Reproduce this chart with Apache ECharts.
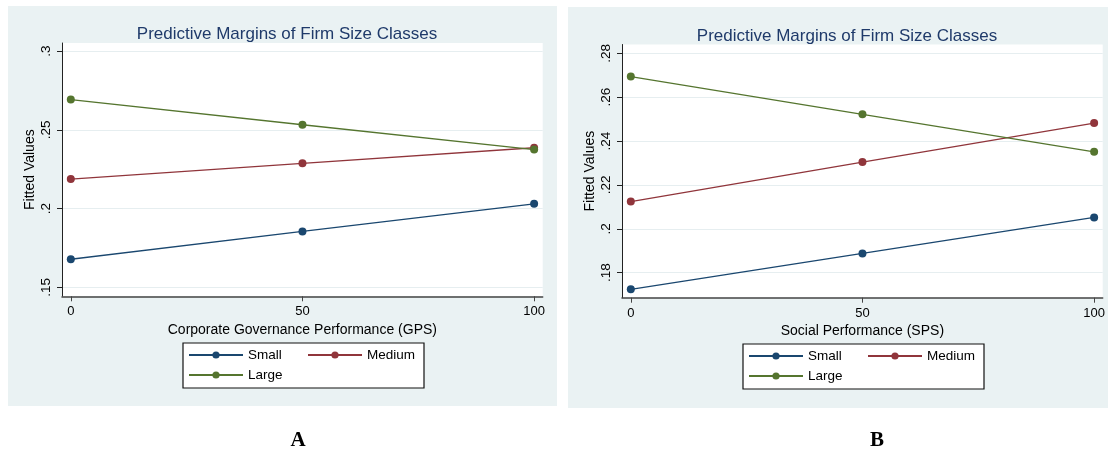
<!DOCTYPE html>
<html>
<head>
<meta charset="utf-8">
<script src="https://cdn.jsdelivr.net/npm/echarts@6/dist/echarts.min.js"></script>
<style>
html,body{margin:0;padding:0;background:#fff;}
#chart{width:1108px;height:456px;}
</style>
</head>
<body>
<div id="chart"></div>
<script>
// ---- data ----
const categoriesX = [0, 50, 100];
const xTicks = [0, 50, 100];
const seriesNames = ['Small', 'Medium', 'Large'];

// Panel A: Corporate Governance Performance (GPS)
const smallA  = [0.1678, 0.1855, 0.2030];
const mediumA = [0.2187, 0.2287, 0.2386];
const largeA  = [0.2692, 0.2532, 0.2374];
const yTicksA = [0.15, 0.2, 0.25, 0.3];

// Panel B: Social Performance (SPS)
const smallB  = [0.1724, 0.1888, 0.2052];
const mediumB = [0.2124, 0.2304, 0.2482];
const largeB  = [0.2694, 0.2522, 0.2351];
const yTicksB = [0.18, 0.2, 0.22, 0.24, 0.26, 0.28];

const titleText = 'Predictive Margins of Firm Size Classes';
const xNameA = 'Corporate Governance Performance (GPS)';
const xNameB = 'Social Performance (SPS)';
const yName = 'Fitted Values';
const panelLabels = ['A', 'B'];

// ---- styling ----
const colors = {Small: '#1a476f', Medium: '#90353b', Large: '#55752f'};
const FONT = '"Liberation Sans", Arial, sans-serif';
const fmtY = v => String(+v.toFixed(4)).replace(/^0\./, '.');

function pairs(vals) { return categoriesX.map((x, i) => [x, vals[i]]); }

function xAxisDef(gridIndex, name) {
  return {
    type: 'value', gridIndex, min: -1.9, max: 101.85,
    name, nameLocation: 'middle', nameGap: 21,
    nameTextStyle: {fontFamily: FONT, fontSize: 14, color: '#000'},
    axisLine: {show: true, onZero: false, lineStyle: {color: '#444', width: 1.5}},
    axisTick: {show: true, length: 5, lineStyle: {color: '#444'}, customValues: xTicks},
    axisLabel: {fontFamily: FONT, fontSize: 13, color: '#000', margin: 9, customValues: xTicks},
    splitLine: {show: false}
  };
}
function yAxisDef(gridIndex, min, max, ticks) {
  return {
    type: 'value', gridIndex, min, max,
    name: yName, nameLocation: 'middle', nameGap: 25,
    nameTextStyle: {fontFamily: FONT, fontSize: 14, color: '#000'},
    axisLine: {show: true, onZero: false, lineStyle: {color: '#222', width: 1}},
    axisTick: {show: true, length: 5, lineStyle: {color: '#222'}, customValues: ticks},
    axisLabel: {fontFamily: FONT, fontSize: 13.5, color: '#000', rotate: 90, margin: 9,
                customValues: ticks, formatter: fmtY},
    splitLine: {show: true, lineStyle: {color: '#e6eef0', width: 1}}
  };
}
function lineSeries(name, data, idx) {
  return {
    type: 'line', name, data: pairs(data), xAxisIndex: idx, yAxisIndex: idx,
    symbol: 'circle', symbolSize: 8, showSymbol: true,
    lineStyle: {color: colors[name], width: 1.3},
    itemStyle: {color: colors[name]},
    emphasis: {disabled: true}, animation: false
  };
}
function legendDef(left, top) {
  return {
    data: seriesNames, left, top, orient: 'horizontal', width: 232,
    itemWidth: 54, itemHeight: 9, itemGap: 6,
    padding: [5, 4, 6, 5],
    borderColor: '#111', borderWidth: 1.2, backgroundColor: '#fff',
    textStyle: {fontFamily: FONT, fontSize: 13.5, color: '#000', width: 53, lineHeight: 14,
                backgroundColor: 'transparent'},
    selectedMode: false
  };
}

const chart = echarts.init(document.getElementById('chart'), null, {renderer: 'canvas'});
chart.setOption({
  animation: false,
  backgroundColor: '#fff',
  title: [
    {text: titleText, left: 282, top: 21, textAlign: 'center',
     textStyle: {fontFamily: FONT, fontSize: 17, fontWeight: 'normal', color: '#1f3a6a'}},
    {text: titleText, left: 842, top: 23, textAlign: 'center',
     textStyle: {fontFamily: FONT, fontSize: 17, fontWeight: 'normal', color: '#1f3a6a'}}
  ],
  graphic: [
    {type: 'rect', z: -100, silent: true, shape: {x: 8, y: 6, width: 549, height: 400}, style: {fill: '#eaf2f3'}},
    {type: 'rect', z: -100, silent: true, shape: {x: 568, y: 7, width: 540, height: 401}, style: {fill: '#eaf2f3'}},
    {type: 'text', silent: true, x: 298, y: 441, style: {text: panelLabels[0], fill: '#000',
      font: 'bold 21px "Liberation Serif", "Times New Roman", serif', textAlign: 'center', textVerticalAlign: 'middle'}},
    {type: 'text', silent: true, x: 877, y: 441, style: {text: panelLabels[1], fill: '#000',
      font: 'bold 21px "Liberation Serif", "Times New Roman", serif', textAlign: 'center', textVerticalAlign: 'middle'}}
  ],
  legend: [legendDef(183, 343), legendDef(743, 344)],
  grid: [
    {left: 62, top: 43, width: 480.7, height: 253.3, show: true, backgroundColor: '#fff', borderWidth: 0, containLabel: false},
    {left: 622, top: 44.5, width: 480.7, height: 253.2, show: true, backgroundColor: '#fff', borderWidth: 0, containLabel: false}
  ],
  xAxis: [xAxisDef(0, xNameA), xAxisDef(1, xNameB)],
  yAxis: [yAxisDef(0, 0.14429, 0.30508, yTicksA), yAxisDef(1, 0.1686, 0.2840, yTicksB)],
  series: [
    lineSeries('Small', smallA, 0), lineSeries('Medium', mediumA, 0), lineSeries('Large', largeA, 0),
    lineSeries('Small', smallB, 1), lineSeries('Medium', mediumB, 1), lineSeries('Large', largeB, 1)
  ]
});
</script>
</body>
</html>
